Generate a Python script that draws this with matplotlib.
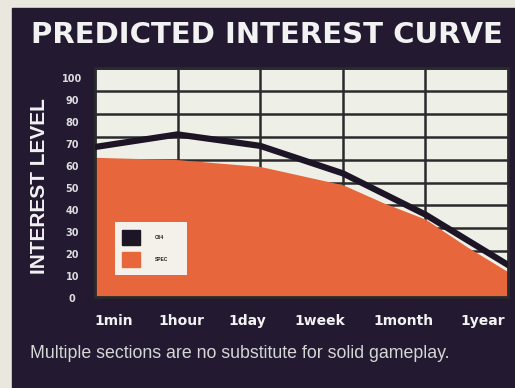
import matplotlib.pyplot as plt
import matplotlib.transforms as mtransforms
from matplotlib.patches import Rectangle

# ── Data ───────────────────────────────────────────────────────────────────────
time_labels = ["1min", "1hour", "1day", "1week", "1month", "1year"]
label_pos   = [0.23, 1.05, 1.85, 2.72, 3.73, 4.69]

c64_x    = [0, 1, 2, 3, 4, 5]
c64_vals = [65.5, 71, 66, 54, 36, 14]

spec_x    = [0, 0.5, 1, 1.5, 2, 2.5, 3, 3.5, 4, 4.5, 5]
spec_vals = [61, 60.5, 60, 58.5, 57, 53, 49, 41, 34, 22, 11]

y_ticks = list(range(0, 101, 10))

# ── Style ──────────────────────────────────────────────────────────────────────
PANEL  = "#231a31"
PAPER  = "#e9e7de"
PLOTBG = "#eef0e7"
GRID   = "#2a2a2c"
ORANGE = "#e8663b"
LINE   = "#1d1426"
TEXT   = "#f2f2f2"

fig = plt.figure(figsize=(5.15, 3.88), dpi=100, facecolor=PAPER)
fig.patches.append(Rectangle((12 / 515, 0), 1, 1 - 8 / 388,
                             transform=fig.transFigure, color=PANEL, zorder=-10))

ax = fig.add_axes([95 / 515, 91 / 388, 413 / 515, 229 / 388])
ax.set_facecolor(PLOTBG)
ax.set_xlim(0, 5)
ax.set_ylim(0, 100)

ax.set_xticks([1, 2, 3, 4])
ax.set_yticks(y_ticks)
ax.set_xticklabels([])
ax.set_yticklabels([])
ax.tick_params(which="major", length=0)
ax.grid(True, color=GRID, linewidth=1.8)
ax.set_axisbelow(True)
for s in ax.spines.values():
    s.set_color(GRID)
    s.set_linewidth(2)

ax.fill_between(spec_x, 0, spec_vals, color=ORANGE, linewidth=0, zorder=2)
ax.plot(c64_x, c64_vals, color=LINE, linewidth=4.5, solid_joinstyle="miter", zorder=3)

# x labels sit a bit off the gridlines in the original
ax.set_xticks(label_pos, time_labels, minor=True)
ax.tick_params(axis="x", which="minor", length=0, pad=12, labelsize=10,
               labelcolor=TEXT)
for t in ax.get_xticklabels(minor=True):
    t.set_fontweight("heavy")
    t.set_family("DejaVu Sans")

# y labels drift slightly from the gridlines too
trans = mtransforms.blended_transform_factory(ax.transAxes, ax.transData)
for v in y_ticks:
    ax.text(-0.055, 0.96 * v - 1, str(v), transform=trans, ha="center", va="center",
            fontsize=7, fontweight="bold", color="#dcdcdc", family="DejaVu Sans")

# legend box
lax = fig.add_axes([115 / 515, 113 / 388, 72 / 515, 53 / 388])
lax.set_xlim(0, 1)
lax.set_ylim(0, 1)
lax.axis("off")
lax.add_patch(Rectangle((0, 0), 1, 1, color="#f4f1ea"))
lax.add_patch(Rectangle((0.1, 0.57), 0.25, 0.28, color=LINE))
lax.add_patch(Rectangle((0.1, 0.15), 0.25, 0.28, color=ORANGE))
lax.text(0.55, 0.71, "C64", fontsize=3.5, fontweight="bold", va="center",
         color="#222222", family="Liberation Sans")
lax.text(0.55, 0.29, "SPEC", fontsize=3.5, fontweight="bold", va="center",
         color="#222222", family="Liberation Sans")

# titles and captions
fig.text(267 / 515, 1 - 35 / 388, "PREDICTED INTEREST CURVE", ha="center",
         va="center", fontsize=21, fontweight="bold", color=TEXT,
         family="DejaVu Sans")
fig.text(40 / 515, 1 - 186 / 388, "INTEREST LEVEL", rotation=90, ha="center",
         va="center", fontsize=15, fontweight="bold", color=TEXT,
         family="Liberation Sans")
fig.text(30 / 515, 1 - 353 / 388,
         "Multiple sections are no substitute for solid gameplay.",
         ha="left", va="center", fontsize=12.8, color="#d6d6d6",
         family=["Liberation Sans Narrow", "Liberation Sans"])

fig.savefig("out.png", dpi=100, facecolor=PAPER)
